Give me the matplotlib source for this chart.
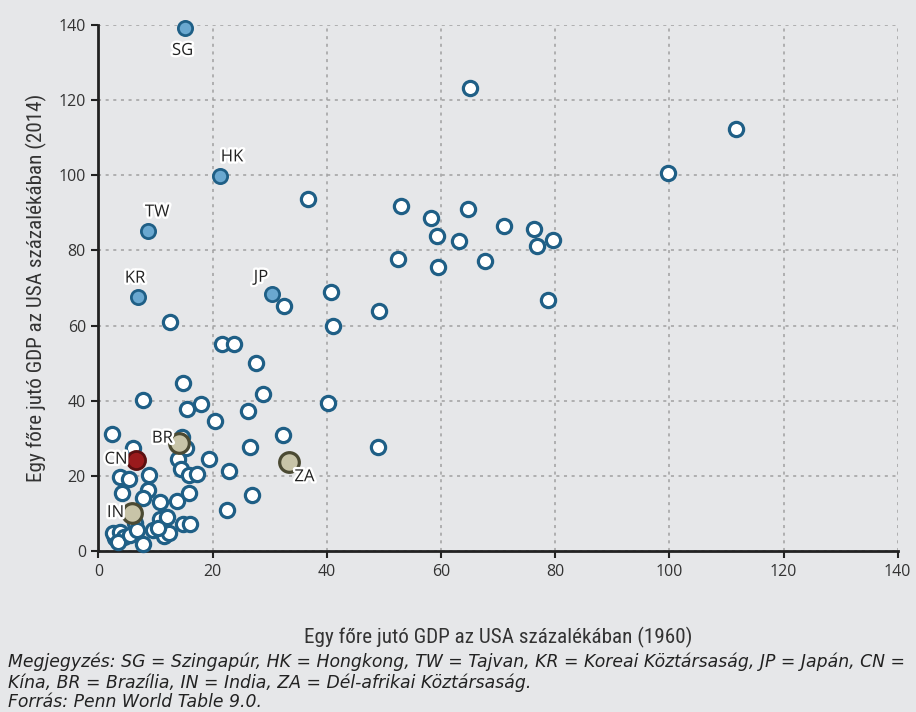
import matplotlib
matplotlib.use("Agg")
import matplotlib.pyplot as plt
import matplotlib.patheffects as pe
from matplotlib import font_manager

# ---- data ----
other_x = [65.1, 111.6, 99.8, 36.7, 53.0, 58.2, 64.7, 71.0, 76.3, 59.3, 63.1, 76.8, 79.6, 52.5, 67.7, 59.4, 78.7,
           40.7, 32.5, 49.1, 41.1, 12.5, 21.6, 23.7, 27.6, 14.8, 28.8, 7.8, 17.9, 15.5, 26.2, 40.2, 20.4, 32.3,
           14.6, 2.4, 26.5, 15.3, 6.1, 49.0, 13.9, 19.4, 22.9, 14.5, 15.8, 17.2, 3.7, 5.3, 8.8, 4.1, 8.6, 7.8,
           10.7, 13.7, 15.8, 26.9, 22.5, 6.4, 10.8, 12.0, 14.8, 16.0, 9.5, 11.5, 12.3, 7.8, 2.9, 2.5, 3.8, 4.5,
           3.4, 5.5, 6.7, 10.4]
other_y = [123.3, 112.2, 100.5, 93.8, 91.7, 88.5, 90.9, 86.4, 85.6, 83.8, 82.4, 81.3, 82.7, 77.8, 77.3, 75.6, 66.7,
           68.9, 65.3, 63.9, 60.0, 61.0, 55.0, 55.0, 50.0, 44.7, 41.9, 40.1, 39.0, 37.9, 37.2, 39.4, 34.7, 30.8,
           30.4, 31.2, 27.6, 27.4, 27.4, 27.7, 24.4, 24.4, 21.2, 21.7, 20.1, 20.5, 19.6, 19.3, 20.2, 15.5, 16.3, 14.0,
           13.1, 13.3, 15.5, 14.8, 10.8, 7.5, 8.5, 9.1, 7.3, 7.3, 5.6, 3.9, 4.8, 2.0, 3.4, 4.7, 5.1, 3.7,
           2.4, 4.3, 5.6, 6.1]

tigers = ["SG", "HK", "TW", "KR", "JP"]
tigers_x = [15.1, 21.3, 8.7, 6.9, 30.4]
tigers_y = [139.2, 99.7, 85.3, 67.7, 68.3]

china = ["CN"]
china_x = [6.6]
china_y = [24.3]

emerging = ["BR", "IN", "ZA"]
emerging_x = [14.1, 5.9, 33.4]
emerging_y = [28.8, 10.1, 23.7]

xticks = [0, 20, 40, 60, 80, 100, 120, 140]
yticks = [0, 20, 40, 60, 80, 100, 120, 140]

xlabel = "Egy főre jutó GDP az USA százalékában (1960)"
ylabel = "Egy főre jutó GDP az USA százalékában (2014)"
note_lines = [
    "Megjegyzés: SG = Szingapúr, HK = Hongkong, TW = Tajvan, KR = Koreai Köztársaság, JP = Japán, CN =",
    "Kína, BR = Brazília, IN = India, ZA = Dél-afrikai Köztársaság.",
    "Forrás: Penn World Table 9.0.",
]

# label offsets in points
label_offsets = {"SG": (-1.5, -16.5), "HK": (8.6, 13.7), "TW": (6.5, 13), "KR": (-2, 13),
                 "JP": (-8, 12), "CN": (-14.5, 0), "BR": (-12, 3), "IN": (-12, 0), "ZA": (11, -11)}

# ---- style ----
BG = "#e6e7e9"
DARKBLUE = "#1f5f86"
available = {f.name for f in font_manager.fontManager.ttflist}
cond = "Roboto Condensed" if "Roboto Condensed" in available else "DejaVu Sans"
narrow = [cond, "DejaVu Sans"]
note_font = ["DejaVu Sans"]

fig = plt.figure(figsize=(9.16, 7.12), dpi=100, facecolor=BG)
ax = fig.add_axes([0.1075, 0.2261, 0.8725, 0.7388])
ax.set_facecolor(BG)

ax.scatter(other_x, other_y, s=105, facecolor="white", edgecolor=DARKBLUE, linewidth=2.3, zorder=3, clip_on=False)
ax.scatter(tigers_x, tigers_y, s=105, facecolor="#6aa8d0", edgecolor=DARKBLUE, linewidth=2.0, zorder=4, clip_on=False)
ax.scatter(emerging_x, emerging_y, s=200, facecolor="#c8c4a8", edgecolor="#4b4a33", linewidth=2.3, zorder=4, clip_on=False)
ax.scatter(china_x, china_y, s=170, facecolor="#9a1a1c", edgecolor="#5a0f10", linewidth=2.0, zorder=5, clip_on=False)

halo = [pe.withStroke(linewidth=3.5, foreground="white")]
for names, xs, ys in [(tigers, tigers_x, tigers_y), (china, china_x, china_y), (emerging, emerging_x, emerging_y)]:
    for n, x, y in zip(names, xs, ys):
        ax.annotate(n, (x, y), xytext=label_offsets[n], textcoords="offset points",
                    ha="center", va="center", fontsize=12, family="Open Sans", color="#222222",
                    path_effects=halo, zorder=6)

ax.set_xlim(0, 140)
ax.set_ylim(0, 140)
ax.set_xticks(xticks)
ax.set_yticks(yticks)
ax.set_xticklabels([str(t) for t in xticks], family="Open Sans", fontsize=11.5, color="#333333")
ax.set_yticklabels([str(t) for t in yticks], family="Open Sans", fontsize=11.5, color="#333333")
ax.tick_params(direction="out", length=5, width=1.5, color="#222222", pad=4)
for s in ["top", "right"]:
    ax.spines[s].set_visible(False)
for s in ["left", "bottom"]:
    ax.spines[s].set_linewidth(2)
    ax.spines[s].set_color("#222222")
ax.grid(True, linestyle=(0, (2, 3)), color="#a0a0a0", linewidth=1.1, zorder=0)
ax.set_axisbelow(True)

lab_fs = 15.2 if cond == "Roboto Condensed" else 12.5
ax.set_xlabel(xlabel, family=narrow, fontsize=lab_fs, color="#333333", labelpad=34)
ax.set_ylabel(ylabel, family=narrow, fontsize=lab_fs, color="#333333", labelpad=8)

ys_note = [662, 683, 702]
for line, yp in zip(note_lines, ys_note):
    fig.text(8 / 916, 1 - yp / 712, line, family=note_font, style="italic", fontsize=12.4,
             color="#222222", ha="left", va="center")

fig.savefig("out.png", dpi=100, facecolor=BG)
